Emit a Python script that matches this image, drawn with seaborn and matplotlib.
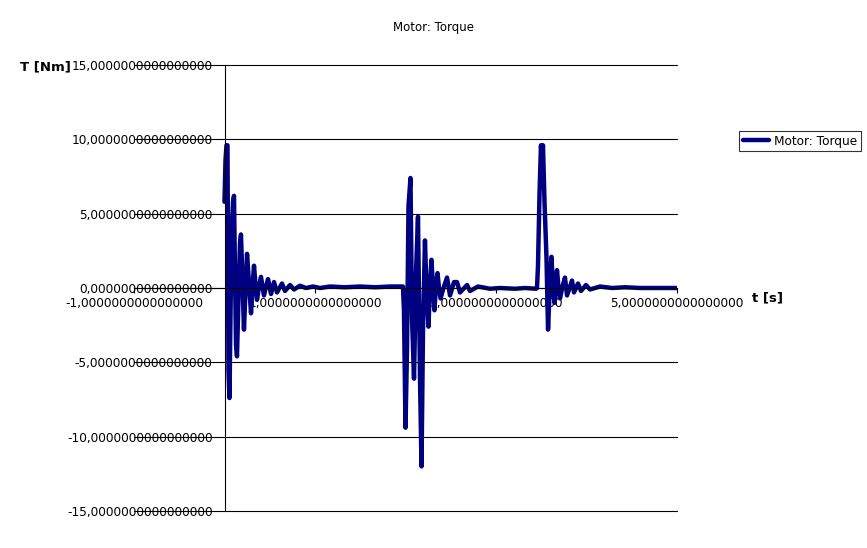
import matplotlib
matplotlib.use('Agg')
import matplotlib.pyplot as plt
import matplotlib.ticker as mticker
import seaborn as sns
import pandas as pd

# Motor torque trace
time_s = [
    0.000, 0.011, 0.022, 0.033, 0.044, 0.055, 0.066, 0.077, 0.094, 0.105,
    0.116, 0.127, 0.138, 0.155, 0.171, 0.182, 0.199, 0.215, 0.232, 0.249,
    0.271, 0.293, 0.309, 0.326, 0.343, 0.359, 0.381, 0.403, 0.420, 0.436,
    0.459, 0.481, 0.497, 0.514, 0.547, 0.580, 0.635, 0.668, 0.724, 0.768,
    0.834, 0.901, 0.978, 1.055, 1.166, 1.331, 1.497, 1.663, 1.829, 1.961,
    1.972, 1.983, 2.000, 2.017, 2.033, 2.055, 2.072, 2.094, 2.116, 2.138,
    2.160, 2.177, 2.193, 2.215, 2.232, 2.254, 2.271, 2.287, 2.304, 2.320,
    2.337, 2.354, 2.370, 2.387, 2.425, 2.459, 2.492, 2.536, 2.569, 2.602,
    2.680, 2.713, 2.801, 2.934, 3.044, 3.210, 3.320, 3.442,
    3.453, 3.464, 3.481, 3.497, 3.508, 3.519, 3.536, 3.558, 3.575, 3.597,
    3.613, 3.630, 3.646, 3.663, 3.674, 3.691, 3.707, 3.735, 3.762, 3.785,
    3.840, 3.862, 3.906, 3.939, 3.994, 4.039, 4.149, 4.282, 4.425, 4.591,
    4.812, 5.000,
]
torque_nm = [
    5.8, 8.6, 9.6, 9.6, -5.5, -7.4, -2.0, 3.5, 5.8, 6.2,
    1.0, -3.8, -4.6, -0.5, 3.0, 3.6, 0.5, -2.8, -0.2, 2.3,
    0.3, -1.7, 0.0, 1.5, 0.2, -0.8, 0.1, 0.75, 0.1, -0.5,
    0.1, 0.6, 0.1, -0.4, 0.4, -0.3, 0.3, -0.2, 0.2, -0.1,
    0.15, 0.0, 0.1, 0.0, 0.1, 0.05, 0.1, 0.05, 0.1, 0.1,
    0.1, -1.5, -9.4, -4.0, 5.5, 7.4, -2.0, -6.1, 1.0, 4.8,
    -6.0, -12.0, -3.0, 3.2, 0.0, -2.6, 0.3, 1.9, 0.0, -1.5,
    0.2, 1.0, 0.0, -0.7, 0.1, 0.7, -0.5, 0.4, 0.4, -0.3,
    0.2, -0.2, 0.1, -0.05, 0.0, -0.05, 0.0, -0.05,
    0.0, 1.5, 6.4, 9.6, 8.5, 9.6, 5.8, 2.0, -2.8, 0.5,
    2.1, 0.0, -1.0, 0.3, 1.2, 0.0, -0.7, 0.1, 0.7, -0.5,
    0.5, -0.3, 0.3, -0.2, 0.2, -0.1, 0.1, 0.0, 0.05, 0.0,
    0.0, 0.0,
]
x_ticks = [-1, 1, 3, 5]
y_ticks = [-15, -10, -5, 0, 5, 10, 15]
series_name = 'Motor: Torque'

df = pd.DataFrame({'t': time_s, 'T': torque_nm})

sns.set_style('white')
plt.rcParams['font.family'] = ['DejaVu Sans']
plt.rcParams['text.color'] = 'black'
plt.rcParams['xtick.color'] = 'black'
plt.rcParams['ytick.color'] = 'black'

W, H = 867, 548
fig = plt.figure(figsize=(W / 100, H / 100), dpi=100)
ax = fig.add_axes([134 / W, 1 - 511 / H, (677 - 134) / W, (511 - 65) / H])

sns.lineplot(data=df, x='t', y='T', ax=ax, color='#000080', linewidth=3.2,
             estimator=None, sort=False, label=series_name, legend=False)

ax.set_xlim(-1, 5)
ax.set_ylim(-15, 15)
ax.set_xticks(x_ticks)
ax.set_yticks(y_ticks)
fmt = mticker.FuncFormatter(lambda v, p: f"{v:.16f}".replace('.', ','))
ax.xaxis.set_major_formatter(fmt)
ax.yaxis.set_major_formatter(fmt)

for s in ['top', 'right']:
    ax.spines[s].set_visible(False)
ax.spines['left'].set_position(('data', 0))
ax.spines['bottom'].set_position(('data', 0))
for s in ['left', 'bottom']:
    ax.spines[s].set_color('black')
    ax.spines[s].set_linewidth(0.8)

ax.yaxis.grid(True, color='black', linewidth=0.8)
ax.xaxis.grid(False)
ax.set_axisbelow(True)
for gl in ax.get_ygridlines():
    gl.set_clip_on(False)
ax.tick_params(axis='y', length=0, pad=8.5, labelsize=8.7, labelcolor='black')
ax.tick_params(axis='x', direction='out', length=3.5, width=0.8, color='black',
               pad=3, labelsize=8.7, labelcolor='black', bottom=True)
ax.set_xlabel('')
ax.set_ylabel('')

fig.text(0.5, 1 - 27 / H, 'Motor: Torque', ha='center', va='center', fontsize=8.5, color='black')
fig.text(20 / W, 1 - 67 / H, 'T [Nm]', ha='left', va='center', fontsize=9.5, fontweight='bold', color='black')
fig.text(752 / W, 1 - 298 / H, 't [s]', ha='left', va='center', fontsize=9.5, fontweight='bold', color='black')

handles, labels = ax.get_legend_handles_labels()
leg = fig.legend(handles, labels, loc='upper left', bbox_to_anchor=(739 / W, 1 - 131 / H),
                 fontsize=8.7, frameon=True, fancybox=False, handlelength=2.2,
                 borderpad=0.3, handletextpad=0.4, borderaxespad=0)
leg.get_frame().set_edgecolor('black')
leg.get_frame().set_linewidth(0.8)
for t in leg.get_texts():
    t.set_color('black')

fig.savefig('out.png', dpi=100)
